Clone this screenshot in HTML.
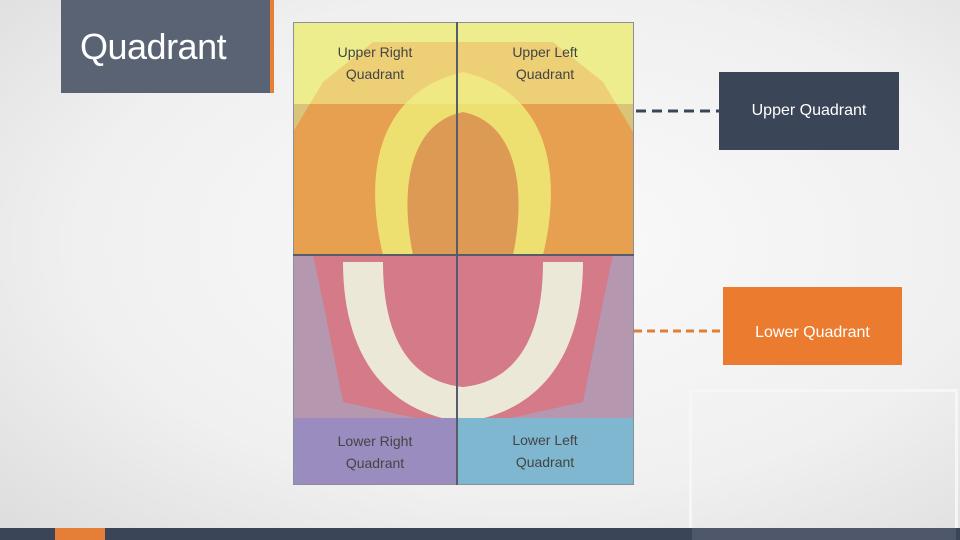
<!DOCTYPE html>
<html><head><style>
body{margin:0;width:960px;height:540px;overflow:hidden;position:relative;background:radial-gradient(ellipse at 55% 45%,#fafafa 0%,#f0f0f0 60%,#dcdcdc 100%);font-family:"Liberation Sans",sans-serif}
.a{position:absolute}
.t{color:#444;font-size:14px;text-align:center;line-height:22px}
</style></head><body>
<div class="a" style="left:61px;top:0;width:209px;height:93px;background:#5a6373"></div>
<div class="a" style="left:270px;top:0;width:4px;height:93px;background:#e57e36"></div>
<div class="a" style="left:80px;top:26px;color:#fff;font-size:36px;letter-spacing:-0.5px">Quadrant</div>

<svg class="a" style="left:293px;top:22px" width="341" height="463">
<rect x="0" y="0" width="341" height="233" fill="#d9c47a"/>
<rect x="0" y="0" width="341" height="82" fill="#e9ea8a"/>
<path d="M30 60 L80 20 L260 20 L310 60 L340 110 L340 233 L0 233 L0 110 Z" fill="#e6a050"/>
<path d="M90 233 C70 150 85 70 170 50 C255 70 270 150 250 233 Z" fill="#eee070"/>
<path d="M120 233 C105 160 120 100 170 90 C220 100 235 160 220 233 Z" fill="#dd9a55"/>
<rect x="0" y="0" width="341" height="82" fill="#f2ee90" opacity=".6"/>
<rect x="0" y="233" width="341" height="230" fill="#b598b0"/>
<path d="M20 233 L320 233 L310 280 L290 380 L200 400 L140 400 L50 380 L30 280 Z" fill="#d47a88"/>
<path d="M50 240 C50 330 90 390 170 400 C250 390 290 330 290 240 L250 240 C250 320 220 360 170 365 C120 360 90 320 90 240 Z" fill="#ece8d8"/>
<rect x="0" y="396" width="164" height="67" fill="#9b8cc0"/>
<rect x="164" y="396" width="177" height="67" fill="#7fb7d0"/>
<rect x="0.5" y="0.5" width="340" height="462" fill="none" stroke="#8a8f9a"/>
<line x1="164" y1="0" x2="164" y2="463" stroke="#555c6a" stroke-width="2"/>
<line x1="0" y1="233" x2="341" y2="233" stroke="#555c6a" stroke-width="2"/>
</svg>
<div class="a t" style="left:300px;top:41px;width:150px">Upper Right<br>Quadrant</div>
<div class="a t" style="left:470px;top:41px;width:150px">Upper Left<br>Quadrant</div>
<div class="a t" style="left:300px;top:430px;width:150px">Lower Right<br>Quadrant</div>
<div class="a t" style="left:470px;top:429px;width:150px">Lower Left<br>Quadrant</div>

<svg class="a" style="left:630px;top:100px" width="100" height="240">
<line x1="6" y1="11" x2="89" y2="11" stroke="#3a4558" stroke-width="3" stroke-dasharray="10 6"/>
<line x1="4" y1="231" x2="93" y2="231" stroke="#e07e36" stroke-width="3" stroke-dasharray="8 5"/>
</svg>
<div class="a" style="left:719px;top:72px;width:180px;height:78px;background:#3a4558;color:#fff;font-size:16px;line-height:78px;text-align:center">Upper Quadrant</div>
<div class="a" style="left:723px;top:287px;width:179px;height:78px;background:#eb7c2f;color:#fff;font-size:16px;line-height:92px;text-align:center">Lower Quadrant</div>

<div class="a" style="left:689px;top:389px;width:269px;height:151px;border:3px solid #f6f6f6;box-sizing:border-box"></div>
<div class="a" style="left:0;top:528px;width:960px;height:12px;background:#3b4558"></div>
<div class="a" style="left:55px;top:528px;width:50px;height:12px;background:#e57e36"></div>
<div class="a" style="left:692px;top:528px;width:264px;height:12px;background:#4e586a"></div>
</body></html>
